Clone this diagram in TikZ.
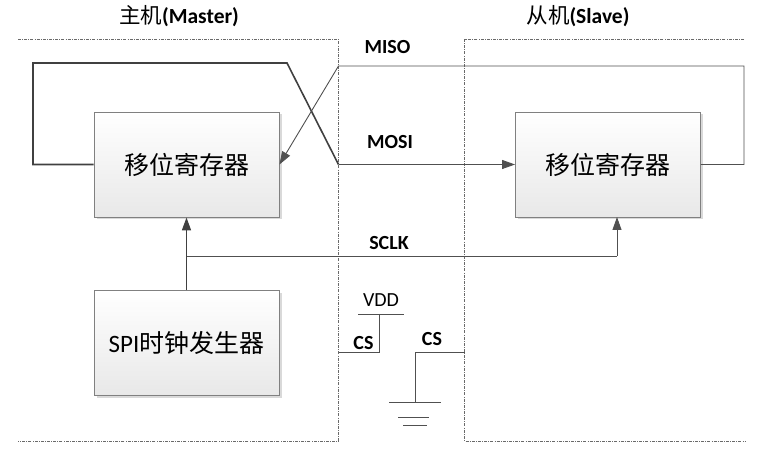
\documentclass[tikz,border=0pt]{standalone}
\usepackage{fontspec}
\setmainfont{Carlito}
\newfontfamily\cjk{Noto Sans CJK SC}
\usetikzlibrary{arrows.meta,shadows,shadings}
\definecolor{lineC}{HTML}{404040}
\definecolor{thinC}{HTML}{505050}
\definecolor{frameC}{HTML}{6A6A6A}
\tikzset{
  blockbox/.style={draw=black!50, line width=0.9pt, top color=white, bottom color=black!9,
    minimum width=185pt, minimum height=105pt, inner sep=0pt,
    drop shadow={shadow xshift=2.5pt, shadow yshift=-2.5pt, opacity=0.25, fill=black!60}},
  frame/.style={draw=frameC, line width=0.7pt, dash pattern=on 3pt off 1.2pt on 0.8pt off 1.2pt},
  thick wire/.style={draw=lineC, line width=1.6pt},
  thin wire/.style={draw=thinC, line width=0.9pt},
  tip/.style={-{Triangle[length=13pt,width=9pt]}},
  lab/.style={font=\fontsize{20}{20}\selectfont\bfseries, inner sep=0pt},
  title/.style={font=\fontsize{21.5}{21.5}\selectfont, inner sep=0pt},
  blocktext/.style={font=\fontsize{25}{25}\selectfont\cjk}
}
\begin{document}
\begin{tikzpicture}[x=1pt,y=-1pt]
\useasboundingbox (0,0) rectangle (772,449);
% frames
\draw[frame] (18,39.5) -- (338.5,39.5) -- (338.5,441) -- (18,441);
\draw[frame] (744,39.5) -- (464.5,39.5) -- (464.5,441) -- (745,441);
% titles
\node[title] (tm) at (179,16) {{\cjk 主机}\textbf{(Master)}};
\node[title] (ts) at (578,16) {{\cjk 从机}\textbf{(Slave)}};
% blocks
\node[blockbox] (mreg) at (186.5,164.5) {};
\node[blocktext] at (mreg) {移位寄存器};
\node[blockbox] (sreg) at (608,164.5) {};
\node[blocktext] at (sreg) {移位寄存器};
\node[blockbox] (clk) at (186.5,343) {};
\node[font=\fontsize{25}{25}\selectfont] at (clk) {SPI{\cjk 时钟发生器}};
% MOSI
\coordinate (mA) at (33,164.5);
\coordinate (mB) at (33,63);
\coordinate (mC) at (287,63);
\coordinate (mD) at (338.5,164.5);
\draw[thick wire] (mreg.west) -- (mA) -- (mB) -- (mC) -- (mD);
\draw[thin wire, tip] (mD) -- (sreg.west);
% MISO
\coordinate (sA) at (744,164.5);
\coordinate (sB) at (744,66);
\coordinate (sC) at (338.5,66);
\draw[thin wire, tip] (sreg.east) -- (sA) -- (sB) -- (sC) -- (mreg.east);
% SCLK
\draw[thick wire, tip] (clk.north) -- (mreg.south);
\coordinate (cA) at (186.5,256);
\coordinate (cB) at (617,256);
\coordinate (cC) at (617,217);
\draw[thin wire] (cA) -- (cB);
\draw[thin wire, tip] (cB) -- (cC);
% labels
\node[lab] (miso) at (387.5,47) {MISO};
\node[lab] (mosi) at (390,142) {MOSI};
\node[lab] (sclk) at (389,243) {SCLK};
% VDD / CS
\node[font=\fontsize{20}{20}\selectfont, inner sep=0pt] (vdd) at (381,300) {VDD};
\coordinate (vL) at (358,314);
\coordinate (vR) at (404,314);
\coordinate (vM) at (379,314);
\coordinate (vD) at (379,352);
\coordinate (vE) at (338.5,352);
\draw[thin wire] (vL) -- (vR);
\draw[thin wire] (vM) -- (vD) -- (vE);
\node[lab] (cs1) at (363.5,343) {CS};
\node[lab] (cs2) at (432,339) {CS};
\coordinate (gA) at (464.5,352);
\coordinate (gB) at (415,352);
\coordinate (gC) at (415,402);
\draw[thin wire] (gA) -- (gB) -- (gC);
\draw[thin wire] (389,402) -- (441,402);
\draw[thin wire] (398,417) -- (429,417);
\draw[thin wire] (403,425) -- (427,425);
\end{tikzpicture}
\end{document}
